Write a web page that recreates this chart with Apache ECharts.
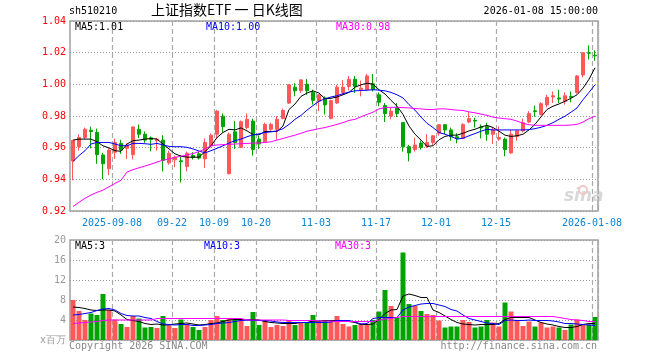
<!DOCTYPE html>
<html>
<head>
<meta charset="utf-8">
<script src="https://cdn.jsdelivr.net/npm/echarts@6/dist/echarts.min.js"></script>
<style>
html,body{margin:0;padding:0;background:#fff;}
#c{width:660px;height:360px;}
</style>
</head>
<body>
<div id="c"></div>
<script>
const dates = [
'2025-08-28','2025-08-29',
'2025-09-01','2025-09-02','2025-09-03','2025-09-04','2025-09-05','2025-09-08','2025-09-09','2025-09-10','2025-09-11','2025-09-12',
'2025-09-15','2025-09-16','2025-09-17','2025-09-18','2025-09-19','2025-09-22','2025-09-23','2025-09-24','2025-09-25','2025-09-26',
'2025-09-29','2025-09-30',
'2025-10-09','2025-10-10','2025-10-13','2025-10-14','2025-10-15','2025-10-16','2025-10-17','2025-10-20','2025-10-21','2025-10-22',
'2025-10-23','2025-10-24','2025-10-27','2025-10-28','2025-10-29','2025-10-30','2025-10-31',
'2025-11-03','2025-11-04','2025-11-05','2025-11-06','2025-11-07','2025-11-10','2025-11-11','2025-11-12','2025-11-13','2025-11-14',
'2025-11-17','2025-11-18','2025-11-19','2025-11-20','2025-11-21','2025-11-24','2025-11-25','2025-11-26','2025-11-27','2025-11-28',
'2025-12-01','2025-12-02','2025-12-03','2025-12-04','2025-12-05','2025-12-08','2025-12-09','2025-12-10','2025-12-11','2025-12-12',
'2025-12-15','2025-12-16','2025-12-17','2025-12-18','2025-12-19','2025-12-22','2025-12-23','2025-12-24','2025-12-25','2025-12-26',
'2025-12-29','2025-12-30','2025-12-31',
'2026-01-05','2026-01-06','2026-01-07','2026-01-08'
];
const tickDates = ['2025-09-08','2025-09-22','2025-10-09','2025-10-20','2025-11-03','2025-11-17','2025-12-01','2025-12-15','2026-01-08'];
const tickLabels = ['2025-09-08','09-22','10-09','10-20','11-03','11-17','12-01','12-15','2026-01-08'];

const open = [0.9516,0.9606,0.9664,0.9710,0.9696,0.9554,0.9467,0.9571,0.9627,0.9596,
0.9556,0.9716,0.9685,0.9662,0.9644,0.9648,0.9504,0.9523,0.9517,0.9480,
0.9550,0.9561,0.9529,0.9612,0.9685,0.9799,0.9436,0.9700,0.9602,0.9727,
0.9768,0.9654,0.9637,0.9716,0.9716,0.9785,0.9882,0.9982,0.9961,1.0001,
0.9949,0.9893,0.9914,0.9785,0.9882,0.9949,0.9986,1.0032,0.9966,0.9966,
1.0003,0.9934,0.9866,0.9799,0.9851,0.9758,0.9606,0.9588,0.9629,0.9608,
0.9633,0.9691,0.9745,0.9712,0.9669,0.9658,0.9762,0.9772,0.9731,0.9733,
0.9685,0.9654,0.9654,0.9567,0.9671,0.9706,0.9762,0.9833,0.9810,0.9870,
0.9920,0.9914,0.9893,0.9924,0.9949,1.0059,1.0200,1.0184];
const close = [0.9646,0.9664,0.9716,0.9702,0.9556,0.9498,0.9585,0.9633,0.9585,0.9617,
0.9731,0.9685,0.9648,0.9652,0.9654,0.9519,0.9565,0.9540,0.9511,0.9565,
0.9538,0.9534,0.9633,0.9679,0.9831,0.9733,0.9685,0.9633,0.9764,0.9779,
0.9588,0.9623,0.9747,0.9747,0.9779,0.9835,0.9997,0.9959,1.0028,0.9959,
0.9899,0.9934,0.9870,0.9897,0.9982,0.9982,1.0032,0.9986,0.9976,1.0053,
0.9966,0.9887,0.9816,0.9831,0.9816,0.9606,0.9567,0.9617,0.9602,0.9633,
0.9675,0.9745,0.9712,0.9669,0.9658,0.9747,0.9783,0.9768,0.9725,0.9685,
0.9712,0.9664,0.9588,0.9685,0.9706,0.9758,0.9816,0.9828,0.9878,0.9918,
0.9928,0.9907,0.9928,0.9918,1.0053,1.0200,1.0196,1.0180];
const low = [0.9394,0.9581,0.9654,0.9596,0.9498,0.9401,0.9426,0.9529,0.9561,0.9529,
0.9525,0.9660,0.9631,0.9577,0.9581,0.9450,0.9492,0.9477,0.9380,0.9450,
0.9525,0.9525,0.9473,0.9602,0.9658,0.9696,0.9430,0.9592,0.9596,0.9716,
0.9550,0.9592,0.9633,0.9706,0.9650,0.9779,0.9876,0.9924,0.9945,0.9934,
0.9872,0.9831,0.9810,0.9779,0.9876,0.9934,0.9961,0.9945,0.9924,0.9959,
0.9955,0.9862,0.9762,0.9779,0.9793,0.9575,0.9513,0.9575,0.9588,0.9598,
0.9617,0.9675,0.9685,0.9644,0.9627,0.9654,0.9754,0.9727,0.9658,0.9644,
0.9623,0.9644,0.9546,0.9561,0.9644,0.9696,0.9754,0.9795,0.9804,0.9855,
0.9882,0.9882,0.9872,0.9887,0.9941,1.0044,1.0157,1.0148];
const high = [0.9648,0.9685,0.9727,0.9733,0.9720,0.9567,0.9596,0.9658,0.9650,0.9627,
0.9733,0.9747,0.9702,0.9671,0.9662,0.9679,0.9581,0.9550,0.9554,0.9575,
0.9571,0.9575,0.9658,0.9689,0.9837,0.9816,0.9696,0.9768,0.9772,0.9816,
0.9783,0.9675,0.9758,0.9758,0.9799,0.9847,1.0001,1.0007,1.0032,1.0034,
0.9966,0.9939,0.9924,0.9903,0.9997,1.0028,1.0053,1.0053,1.0024,1.0065,
1.0065,0.9949,0.9882,0.9851,0.9882,0.9762,0.9617,0.9664,0.9644,0.9685,
0.9679,0.9747,0.9747,0.9727,0.9691,0.9754,0.9824,0.9789,0.9747,0.9758,
0.9727,0.9733,0.9664,0.9712,0.9712,0.9783,0.9831,0.9866,0.9887,0.9934,
0.9955,0.9966,0.9949,0.9955,1.0059,1.0204,1.0246,1.0215];

const ma5 = [0.9648,0.9654,0.9654,0.9654,0.9637,0.9612,0.9598,0.9581,0.9577,0.9623,
0.9644,0.9648,0.9654,0.9658,0.9654,0.9623,0.9592,0.9561,0.9546,0.9540,
0.9540,0.9540,0.9575,0.9612,0.9664,0.9696,0.9716,0.9712,0.9725,0.9706,
0.9683,0.9681,0.9702,0.9702,0.9702,0.9737,0.9841,0.9876,0.9924,0.9945,
0.9959,0.9945,0.9909,0.9912,0.9920,0.9934,0.9949,0.9982,0.9997,1.0007,
1.0001,0.9966,0.9939,0.9899,0.9862,0.9810,0.9737,0.9685,0.9648,0.9608,
0.9612,0.9650,0.9671,0.9679,0.9679,0.9691,0.9706,0.9716,0.9731,0.9741,
0.9727,0.9704,0.9679,0.9671,0.9675,0.9685,0.9712,0.9747,0.9795,0.9841,
0.9862,0.9876,0.9893,0.9912,0.9934,0.9976,1.0032,1.0105];
const ma10 = [0.9513,0.9550,0.9581,0.9623,0.9633,0.9633,0.9633,0.9623,0.9612,0.9612,
0.9627,0.9627,0.9625,0.9621,0.9627,0.9617,0.9608,0.9606,0.9606,0.9602,
0.9592,0.9579,0.9567,0.9581,0.9596,0.9612,0.9629,0.9644,0.9654,0.9669,
0.9681,0.9687,0.9696,0.9700,0.9706,0.9720,0.9747,0.9779,0.9804,0.9837,
0.9866,0.9893,0.9909,0.9920,0.9928,0.9941,0.9951,0.9959,0.9961,0.9963,
0.9966,0.9963,0.9959,0.9949,0.9934,0.9914,0.9872,0.9837,0.9793,0.9754,
0.9727,0.9696,0.9685,0.9671,0.9654,0.9660,0.9675,0.9689,0.9704,0.9716,
0.9712,0.9712,0.9712,0.9712,0.9712,0.9712,0.9714,0.9720,0.9729,0.9741,
0.9758,0.9779,0.9799,0.9824,0.9851,0.9903,0.9949,0.9997];
const ma30 = [0.9228,0.9255,0.9280,0.9301,0.9318,0.9332,0.9353,0.9374,0.9394,0.9446,
0.9461,0.9473,0.9484,0.9496,0.9509,0.9521,0.9529,0.9538,0.9546,0.9554,
0.9563,0.9575,0.9592,0.9612,0.9617,0.9619,0.9621,0.9623,0.9625,0.9627,
0.9629,0.9629,0.9633,0.9637,0.9648,0.9658,0.9669,0.9679,0.9691,0.9704,
0.9712,0.9720,0.9727,0.9737,0.9747,0.9758,0.9772,0.9779,0.9795,0.9810,
0.9824,0.9845,0.9853,0.9855,0.9855,0.9853,0.9851,0.9847,0.9845,0.9841,
0.9841,0.9845,0.9845,0.9841,0.9837,0.9835,0.9826,0.9820,0.9812,0.9804,
0.9793,0.9787,0.9783,0.9779,0.9768,0.9754,0.9745,0.9741,0.9741,0.9741,
0.9741,0.9741,0.9741,0.9743,0.9747,0.9762,0.9783,0.9799];

const volume = [8.0,5.8,4.0,5.3,5.0,9.2,6.0,4.1,3.2,2.6,
4.8,4.3,2.5,2.6,2.4,4.8,2.9,2.4,4.1,3.2,
2.6,2.0,2.6,4.0,4.8,4.0,4.2,4.1,4.1,2.8,
5.6,3.0,4.0,2.6,3.0,2.8,4.0,3.0,3.5,3.6,
5.0,3.8,4.0,3.9,4.8,3.2,2.7,3.0,3.3,3.2,
4.0,5.7,10.0,6.8,4.5,17.5,7.2,6.8,5.8,5.2,
5.0,3.9,2.5,2.7,2.7,4.0,3.6,2.5,2.7,4.0,
3.5,2.7,7.5,5.7,4.0,2.8,3.7,2.7,3.5,2.5,
2.7,2.5,2.0,3.1,4.1,3.1,3.1,4.6];
const vma5 = [6.6,6.5,6.3,6.0,5.9,6.0,6.0,5.8,5.0,4.1,
3.9,3.7,3.3,3.1,3.2,3.0,3.0,3.2,3.3,3.4,
3.2,3.0,3.1,3.3,3.4,3.7,4.0,4.1,4.1,4.0,
4.1,4.0,3.7,3.5,3.4,3.3,3.3,3.3,3.5,3.5,
3.8,3.8,3.9,3.9,3.9,3.8,3.7,3.5,3.1,3.1,
3.2,4.1,5.3,6.0,6.1,8.8,9.2,8.9,8.5,8.5,
6.0,5.5,4.8,4.1,3.5,3.2,3.1,3.0,3.1,3.1,
3.1,3.3,4.1,4.5,4.5,4.5,4.5,4.0,3.5,3.2,
3.0,2.7,2.5,2.5,2.7,3.1,3.3,3.3];
const vma10 = [5.0,5.1,5.3,5.5,5.9,6.2,6.3,6.0,5.3,4.9,
4.8,4.8,4.5,4.3,3.7,3.2,3.1,3.0,3.1,3.1,
2.9,2.9,3.0,3.1,3.3,3.4,3.5,3.7,3.9,4.0,
3.9,3.9,3.9,3.8,3.6,3.5,3.5,3.5,3.5,3.5,
3.5,3.5,3.5,3.6,3.9,3.9,3.9,3.6,3.2,3.3,
4.3,4.5,4.5,4.5,4.5,6.0,6.6,6.9,7.2,7.3,
7.3,7.0,6.7,6.1,5.8,5.0,4.3,4.0,3.7,3.4,
3.3,3.1,3.9,4.0,3.9,3.9,4.0,3.9,3.9,3.9,
3.8,3.6,3.3,3.3,3.2,3.1,3.0,2.9];
const vma30 = [3.3,3.4,3.5,3.6,3.7,3.9,4.0,4.0,4.0,4.0,
4.0,4.0,4.0,4.0,4.3,4.3,4.3,4.3,4.3,4.3,
4.3,4.3,4.3,4.3,4.3,4.3,4.3,4.3,4.3,4.0,
4.0,4.0,4.0,4.0,4.0,4.0,3.9,3.9,3.9,3.9,
3.9,3.8,3.8,3.8,3.7,3.7,3.7,3.7,3.7,3.7,
3.7,4.0,4.2,4.3,4.5,4.7,4.7,4.7,4.7,4.7,
4.7,4.7,4.7,4.7,4.7,4.7,4.7,4.7,4.7,4.7,
4.7,4.7,4.7,4.7,4.7,4.7,4.7,4.7,4.7,4.7,
4.7,4.5,4.3,4.1,4.0,3.9,3.7,3.7];

const UP = '#ff5858', DOWN = '#00a300';
const MONO = 'DejaVu Sans Mono';
const tickIdx = tickDates.map(d => dates.indexOf(d));
const isTick = (i) => tickIdx.indexOf(i) >= 0;

const chart = echarts.init(document.getElementById('c'), null, {renderer: 'canvas'});
const candleData = dates.map((d, i) => [open[i], close[i], low[i], high[i]]);
const volData = volume.map((v, i) => ({value: v, itemStyle: {color: close[i] >= open[i] ? UP : DOWN}}));

const splitV = {show: true, interval: (i) => isTick(i), lineStyle: {color: '#aaa', type: [5, 3], width: 1.2}};
const splitH = {show: true, lineStyle: {color: '#999', type: [1, 2], width: 1}};

chart.setOption({
  animation: false,
  backgroundColor: '#fff',
  grid: [
    {left: 70, top: 21, width: 528, height: 190, show: true, borderColor: '#a0a0a0', borderWidth: 1.5, backgroundColor: 'transparent'},
    {left: 70, top: 240, width: 528, height: 100, show: true, borderColor: '#a0a0a0', borderWidth: 1.5, backgroundColor: 'transparent'}
  ],
  xAxis: [
    {type: 'category', gridIndex: 0, data: dates, boundaryGap: true,
     axisLine: {show: false}, axisTick: {show: false},
     axisLabel: {interval: (i) => isTick(i), formatter: (v) => tickLabels[tickDates.indexOf(v)],
                 color: '#0a85d6', fontFamily: MONO, fontSize: 10, margin: 7, padding: [0, 6, 0, 0]},
     splitLine: splitV},
    {type: 'category', gridIndex: 1, data: dates, boundaryGap: true,
     axisLine: {show: false}, axisTick: {show: false}, axisLabel: {show: false},
     splitLine: splitV}
  ],
  yAxis: [
    {type: 'value', gridIndex: 0, min: 0.92, max: 1.04, interval: 0.02, scale: true,
     axisLine: {show: false}, axisTick: {show: false},
     axisLabel: {formatter: (v) => v.toFixed(2), color: '#ff0000', fontFamily: MONO, fontSize: 10, margin: 4},
     splitLine: splitH},
    {type: 'value', gridIndex: 1, min: 0, max: 20, interval: 4,
     axisLine: {show: false}, axisTick: {show: false},
     axisLabel: {formatter: (v) => v === 0 ? 'x百万' : String(v), color: '#999', fontFamily: MONO, fontSize: 10, margin: 4},
     splitLine: splitH}
  ],
  series: [
    {type: 'candlestick', xAxisIndex: 0, yAxisIndex: 0, data: candleData, barWidth: 4,
     itemStyle: {color: UP, color0: DOWN, borderColor: UP, borderColor0: DOWN, borderWidth: 1}},
    {type: 'line', xAxisIndex: 0, yAxisIndex: 0, data: ma5, showSymbol: false, lineStyle: {color: '#000', width: 1}, z: 3},
    {type: 'line', xAxisIndex: 0, yAxisIndex: 0, data: ma10, showSymbol: false, lineStyle: {color: '#0000ff', width: 1}, z: 3},
    {type: 'line', xAxisIndex: 0, yAxisIndex: 0, data: ma30, showSymbol: false, lineStyle: {color: '#ff00ff', width: 1}, z: 3},
    {type: 'bar', xAxisIndex: 1, yAxisIndex: 1, data: volData, barWidth: 5},
    {type: 'line', xAxisIndex: 1, yAxisIndex: 1, data: vma5, showSymbol: false, lineStyle: {color: '#000', width: 1}, z: 3},
    {type: 'line', xAxisIndex: 1, yAxisIndex: 1, data: vma10, showSymbol: false, lineStyle: {color: '#0000ff', width: 1}, z: 3},
    {type: 'line', xAxisIndex: 1, yAxisIndex: 1, data: vma30, showSymbol: false, lineStyle: {color: '#ff00ff', width: 1}, z: 3}
  ],
  graphic: [
    {type: 'text', left: 69, top: 6, style: {text: 'sh510210', font: '10px "DejaVu Sans Mono"', fill: '#000'}},
    {type: 'text', left: 151, top: 3, style: {text: '上证指数ETF 一 日K线图', font: '14px "Noto Sans CJK SC"', fill: '#000'}},
    {type: 'text', right: 62, top: 6, style: {text: '2026-01-08 15:00:00', font: '10px "DejaVu Sans Mono"', fill: '#000'}},
    {type: 'text', left: 75, top: 22, style: {text: 'MA5:' + ma5[ma5.length - 1].toFixed(2), font: '10px "DejaVu Sans Mono"', fill: '#000'}, z: 10},
    {type: 'text', left: 206, top: 22, style: {text: 'MA10:' + ma10[ma10.length - 1].toFixed(2), font: '10px "DejaVu Sans Mono"', fill: '#0000ff'}, z: 10},
    {type: 'text', left: 336, top: 22, style: {text: 'MA30:' + ma30[ma30.length - 1].toFixed(2), font: '10px "DejaVu Sans Mono"', fill: '#ff00ff'}, z: 10},
    {type: 'text', left: 75, top: 241, style: {text: 'MA5:3', font: '10px "DejaVu Sans Mono"', fill: '#000'}, z: 10},
    {type: 'text', left: 204, top: 241, style: {text: 'MA10:3', font: '10px "DejaVu Sans Mono"', fill: '#0000ff'}, z: 10},
    {type: 'text', left: 335, top: 241, style: {text: 'MA30:3', font: '10px "DejaVu Sans Mono"', fill: '#ff00ff'}, z: 10},
    {type: 'text', left: 69, top: 341, style: {text: 'Copyright 2026 SINA.COM', font: '10px "DejaVu Sans Mono"', fill: '#888'}},
    {type: 'text', right: 63, top: 341, style: {text: 'http://finance.sina.com.cn', font: '10px "DejaVu Sans Mono"', fill: '#888'}},
    {type: 'text', left: 564, top: 188, style: {text: 'sina', font: 'italic bold 17px "DejaVu Sans"', fill: '#d8d8d8'}, z: 0},
    {type: 'circle', shape: {cx: 583, cy: 190, r: 4}, style: {fill: 'none', stroke: '#f0c8c8', lineWidth: 2}, z: 0}
  ]
});
</script>
</body>
</html>
